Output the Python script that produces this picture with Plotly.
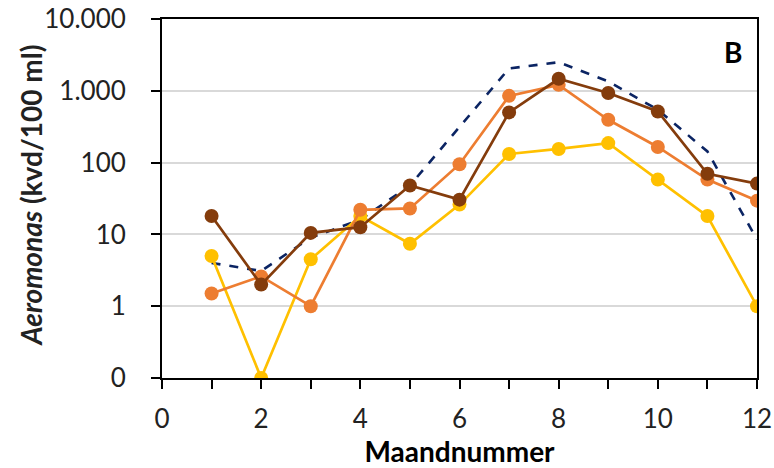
import plotly.graph_objects as go

# Monthly Aeromonas counts (kvd/100 ml)
months = list(range(1, 13))
serie_bruin = [18, 2, 10.5, 12.6, 48, 30.5, 500, 1470, 930, 515, 70, 51]
serie_oranje = [1.5, 2.6, 1.0, 22, 23, 95, 850, 1210, 395, 165, 58, 29.5]
serie_geel = [5, 0, 4.5, 18, 7.4, 26, 132, 155, 187, 58, 18, 1]
serie_gestippeld = [4, 3.1, 9, 16, 48, 310, 2050, 2500, 1350, 545, 143, 8.5]

y_tickvals = [0.1, 1, 10, 100, 1000, 10000]
y_ticktext = ["0", "1", "10", "100", "1.000", "10.000"]

# zero counts are shown on the bottom line of the log axis (labelled "0")
ZERO_LEVEL = 0.1


def on_log_axis(values):
    return [v if v > 0 else ZERO_LEVEL for v in values]


FONT = "Lato, 'Open Sans', sans-serif"
TICK_SIZE = 26
TITLE_SIZE = 28

fig = go.Figure()

fig.add_trace(go.Scatter(
    x=months, y=on_log_axis(serie_gestippeld), mode="lines",
    line=dict(color="#0B2463", width=2.6, dash="dash"),
    name="Gemiddelde", showlegend=False,
))
for vals, color in [(serie_geel, "#FFC000"), (serie_oranje, "#ED7D31"), (serie_bruin, "#843C0C")]:
    fig.add_trace(go.Scatter(
        x=months, y=on_log_axis(vals), mode="lines+markers",
        line=dict(color=color, width=2.7),
        marker=dict(color=color, size=14),
        showlegend=False,
    ))

fig.update_layout(
    width=774, height=468,
    margin=dict(l=162, r=17, t=19, b=90),
    paper_bgcolor="white", plot_bgcolor="white",
    font=dict(family=FONT, color="#222222", size=TICK_SIZE),
)

fig.update_xaxes(
    range=[0, 12], dtick=2, tick0=0,
    automargin=False,
    showgrid=False, zeroline=False,
    showline=True, linecolor="black", linewidth=2, mirror=True,
    ticks="outside", ticklen=9, tickwidth=1.5, tickcolor="black",
    minor=dict(dtick=1, ticks="outside", ticklen=9, tickwidth=1.5, tickcolor="black", showgrid=False),
    tickfont=dict(size=TICK_SIZE, family=FONT),
    ticklabelstandoff=8,
    title=dict(text="<b>Maandnummer</b>", font=dict(size=28, family=FONT, color="black"), standoff=5),
)

fig.update_yaxes(
    type="log", range=[-1, 4],
    automargin=False,
    tickvals=y_tickvals, ticktext=y_ticktext,
    showgrid=True, gridcolor="#D9D9D9", gridwidth=1.5,
    zeroline=False,
    showline=True, linecolor="black", linewidth=2, mirror=True,
    ticks="outside", ticklen=9, tickwidth=1.5, tickcolor="black",
    tickfont=dict(size=TICK_SIZE, family=FONT),
    ticklabelstandoff=20,
)

# vertical axis title, placed as a rotated annotation for exact centring
fig.add_annotation(
    x=-0.221, y=0.507, xref="paper", yref="paper",
    text="<b><i>Aeromonas</i> (kvd/100 ml)</b>", textangle=-90, showarrow=False,
    font=dict(size=TITLE_SIZE, family=FONT, color="#222222"),
    xanchor="center", yanchor="middle",
)

fig.add_annotation(
    x=0.96, y=0.908, xref="paper", yref="paper",
    text="<b>B</b>", showarrow=False,
    font=dict(size=28, family=FONT, color="black"),
    xanchor="center", yanchor="middle",
)

fig.write_html("out.html")
